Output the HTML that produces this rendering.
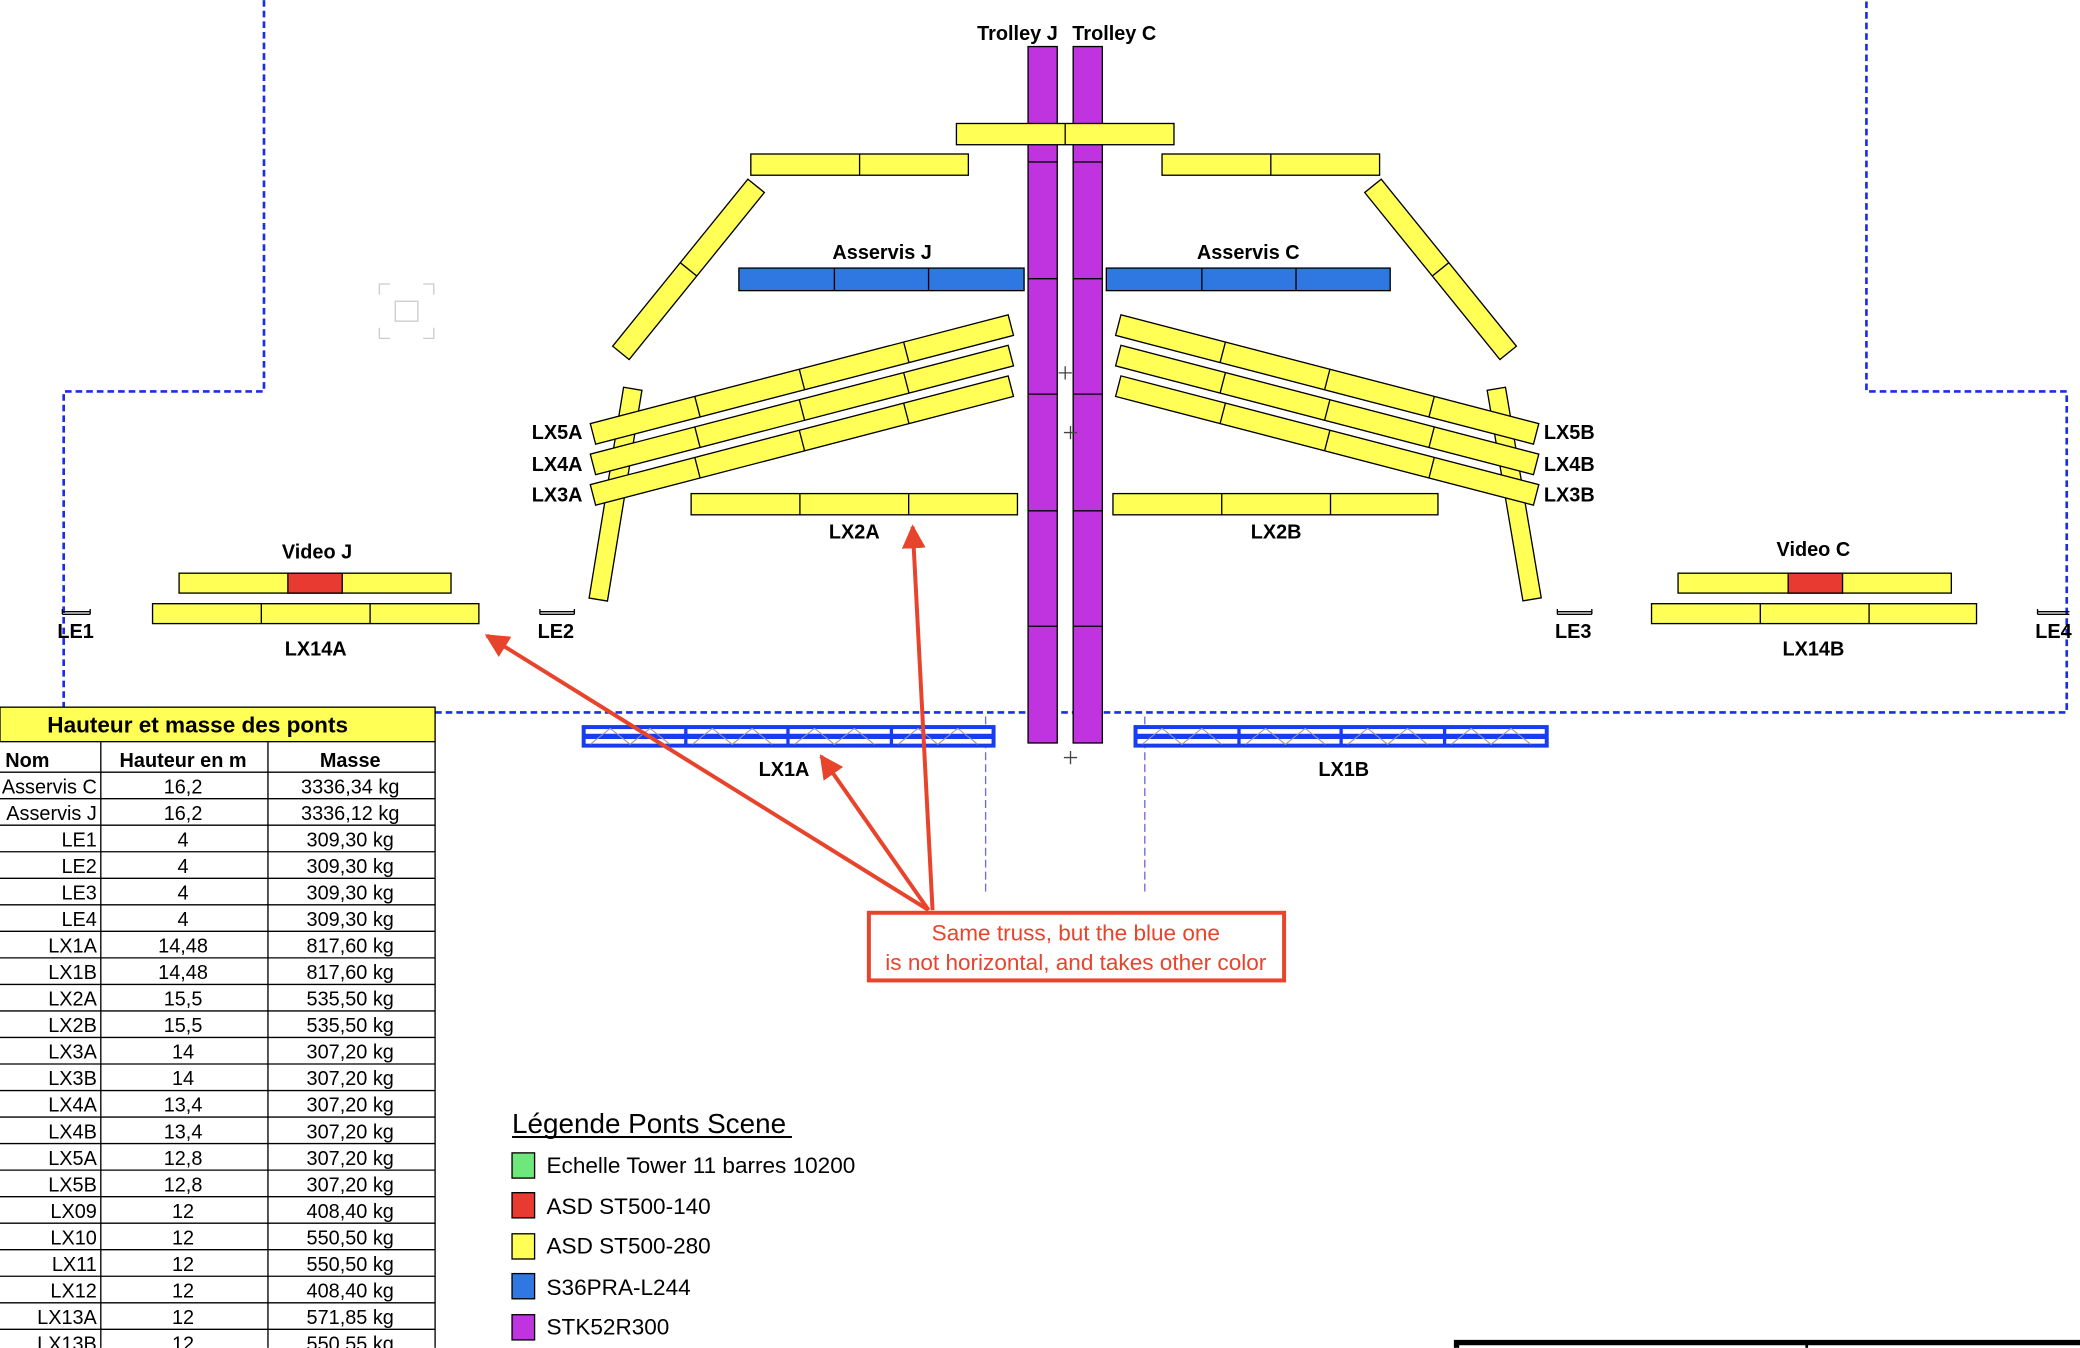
<!DOCTYPE html>
<html><head><meta charset="utf-8"><style>
html,body{margin:0;padding:0;background:#fff;}
svg{display:block;}
text{font-family:"Liberation Sans",sans-serif;}
</style></head><body>
<svg width="2080" height="1348" viewBox="0 0 1568 1016" xmlns="http://www.w3.org/2000/svg">
<defs>
<marker id="ah2" viewBox="0 0 10 10" markerWidth="18" markerHeight="18" refX="9" refY="5" orient="auto" markerUnits="userSpaceOnUse">
<path d="M0,0 L10,5 L0,10 Z" fill="#e8432b"/></marker>
</defs>
<path d="M199,0 V295 H48 V537 H1558 V295 H1407 V0" fill="none" stroke="#1a2ee8" stroke-width="2" stroke-dasharray="5,3"/>
<line x1="743" y1="540" x2="743" y2="672" stroke="#6a6ae0" stroke-width="1" stroke-dasharray="6,3"/>
<line x1="863" y1="540" x2="863" y2="672" stroke="#6a6ae0" stroke-width="1" stroke-dasharray="6,3"/>

<g stroke="#ccc" fill="none" stroke-width="1">
<path d="M286,222 V214 H294 M319,214 H327 V222 M327,247 V255 H319 M294,255 H286 V247"/>
<rect x="298" y="227" width="17" height="15"/>
</g>

<g stroke="#000" stroke-width="1" fill="#c034e0">
<rect x="775" y="35" width="22" height="525"/>
<rect x="809" y="35" width="22" height="525"/>
<path d="M775,122H797M775,210H797M775,297H797M775,385H797M775,472H797M809,122H831M809,210H831M809,297H831M809,385H831M809,472H831" fill="none"/>
</g>
<text x="767" y="30" font-size="15" font-weight="bold" text-anchor="middle">Trolley J</text>
<text x="840" y="30" font-size="15" font-weight="bold" text-anchor="middle">Trolley C</text>

<g stroke="#000" stroke-width="1" fill="#ffff55">
<rect x="721" y="93" width="164" height="16"/><line x1="803" y1="93" x2="803" y2="109"/>
<rect x="566" y="116" width="164" height="16"/><line x1="648" y1="116" x2="648" y2="132"/>
<rect x="876" y="116" width="164" height="16"/><line x1="958" y1="116" x2="958" y2="132"/>
<g transform="translate(570,140) rotate(128.99)"><rect x="0" y="-8" width="162" height="16"/><line x1="81" y1="-8" x2="81" y2="8"/></g>
<g transform="translate(1035,140) rotate(51.01)"><rect x="0" y="-8" width="162" height="16"/><line x1="81" y1="-8" x2="81" y2="8"/></g>
<g transform="translate(477,293) rotate(99.29)"><rect x="0" y="-7" width="161" height="14"/></g>
<g transform="translate(1128,293) rotate(80.36)"><rect x="0" y="-7" width="161" height="14"/></g>
</g>

<g stroke="#000" stroke-width="1" fill="#2f78e2">
<rect x="557" y="202" width="215" height="17"/><path d="M629,202V219M700,202V219"/>
<rect x="834" y="202" width="214" height="17"/><path d="M906,202V219M977,202V219"/>
</g>
<text x="665" y="195" font-size="15" font-weight="bold" text-anchor="middle">Asservis J</text>
<text x="941" y="195" font-size="15" font-weight="bold" text-anchor="middle">Asservis C</text>

<g stroke="#000" stroke-width="1" fill="#ffff55">
<g transform="translate(447,327) rotate(-14.59)"><rect x="0" y="-8" width="325.5" height="16"/><path d="M81.4,-8V8M162.8,-8V8M244.1,-8V8"/></g>
<g transform="translate(447,350) rotate(-14.59)"><rect x="0" y="-8" width="325.5" height="16"/><path d="M81.4,-8V8M162.8,-8V8M244.1,-8V8"/></g>
<g transform="translate(447,373) rotate(-14.59)"><rect x="0" y="-8" width="325.5" height="16"/><path d="M81.4,-8V8M162.8,-8V8M244.1,-8V8"/></g>
<g transform="translate(843,245) rotate(14.59)"><rect x="0" y="-8" width="325.5" height="16"/><path d="M81.4,-8V8M162.8,-8V8M244.1,-8V8"/></g>
<g transform="translate(843,268) rotate(14.59)"><rect x="0" y="-8" width="325.5" height="16"/><path d="M81.4,-8V8M162.8,-8V8M244.1,-8V8"/></g>
<g transform="translate(843,291) rotate(14.59)"><rect x="0" y="-8" width="325.5" height="16"/><path d="M81.4,-8V8M162.8,-8V8M244.1,-8V8"/></g>
<rect x="521" y="372" width="246" height="16"/><path d="M603,372V388M685,372V388"/>
<rect x="839" y="372" width="245" height="16"/><path d="M921,372V388M1003,372V388"/>
<rect x="135" y="432" width="205" height="15"/>
<rect x="115" y="455" width="246" height="15"/><path d="M197,455V470M279,455V470"/>
<rect x="1265" y="432" width="206" height="15"/>
<rect x="1245" y="455" width="245" height="15"/><path d="M1327,455V470M1409,455V470"/>
</g>
<rect x="217" y="432" width="41" height="15" fill="#e83a30" stroke="#000"/>
<rect x="1348" y="432" width="41" height="15" fill="#e83a30" stroke="#000"/>

<g font-size="15" font-weight="bold" text-anchor="middle">
<text x="420" y="331">LX5A</text><text x="420" y="355">LX4A</text><text x="420" y="378">LX3A</text>
<text x="1183" y="331">LX5B</text><text x="1183" y="355">LX4B</text><text x="1183" y="378">LX3B</text>
<text x="644" y="406">LX2A</text><text x="962" y="406">LX2B</text>
<text x="239" y="421">Video J</text><text x="1367" y="419">Video C</text>
<text x="238" y="494">LX14A</text><text x="1367" y="494">LX14B</text>
<text x="57" y="481">LE1</text><text x="419" y="481">LE2</text><text x="1186" y="481">LE3</text><text x="1548" y="481">LE4</text>
<text x="591" y="585">LX1A</text><text x="1013" y="585">LX1B</text>
</g>
<g stroke="#000" stroke-width="1">
<path d="M47,461H68M47,459V463M68,459V463M47,463H68"/>
<path d="M407,461H433M407,459V463M433,459V463M407,463H433"/>
<path d="M1174,461H1200M1174,459V463M1200,459V463M1174,463H1200"/>
<path d="M1536,461H1560M1536,459V463M1536,463H1560"/>
<path d="M798,281H808M803,276V286M802,326H812M807,321V331M802,571H812M807,566V576" stroke="#444"/>
</g>

<g>
<rect x="440" y="548" width="309" height="14" fill="#fff" stroke="#1a3cf0" stroke-width="3"/>
<rect x="856" y="548" width="310" height="14" fill="#fff" stroke="#1a3cf0" stroke-width="3"/>
<path d="M441,555H748M857,555H1165" stroke="#1a3cf0" stroke-width="4"/>
<path d="M517,549V561M594,549V561M672,549V561M934,549V561M1011,549V561M1089,549V561" stroke="#1a3cf0" stroke-width="2.5"/>
<path d="M445,561L460,549L475,561L490,549L505,561M522,561L537,549L552,561L567,549L582,561M599,561L614,549L629,561L644,549L659,561M677,561L692,549L707,561L722,549L737,561M861,561L876,549L891,561L906,549L921,561M939,561L954,549L969,561L984,549L999,561M1016,561L1031,549L1046,561L1061,549L1076,561M1094,561L1109,549L1124,561L1139,549L1154,561" stroke="#999" stroke-width="0.8" fill="none"/>
</g>

<rect x="655" y="688" width="313" height="51" fill="#fff" stroke="#e8432b" stroke-width="3"/>
<text x="811" y="709" font-size="17" fill="#e8432b" text-anchor="middle">Same truss, but the blue one</text>
<text x="811" y="731" font-size="17" fill="#e8432b" text-anchor="middle">is not horizontal, and takes other color</text>
<g stroke="#e8432b" stroke-width="3" fill="none">
<line x1="700" y1="686" x2="367" y2="479" marker-end="url(#ah2)"/>
<line x1="700" y1="686" x2="619" y2="570" marker-end="url(#ah2)"/>
<line x1="703" y1="686" x2="688" y2="397" marker-end="url(#ah2)"/>
</g>

<text x="386" y="854" font-size="21">Légende Ponts Scene</text>
<line x1="386" y1="857" x2="597" y2="857" stroke="#000" stroke-width="1.5"/>
<g stroke="#000" stroke-width="1">
<rect x="386" y="869" width="17" height="19" fill="#6ee87a"/>
<rect x="386" y="899" width="17" height="19" fill="#e83a30"/>
<rect x="386" y="930" width="17" height="19" fill="#ffff55"/>
<rect x="386" y="960" width="17" height="19" fill="#2f78e2"/>
<rect x="386" y="991" width="17" height="19" fill="#c034e0"/>
</g>
<g font-size="17">
<text x="412" y="884">Echelle Tower 11 barres 10200</text>
<text x="412" y="915">ASD ST500-140</text>
<text x="412" y="945">ASD ST500-280</text>
<text x="412" y="976">S36PRA-L244</text>
<text x="412" y="1006">STK52R300</text>
</g>

<rect x="0" y="533" width="328" height="26" fill="#ffff55" stroke="#000" stroke-width="1"/>
<text x="149" y="552" font-size="17" font-weight="bold" text-anchor="middle">Hauteur et masse des ponts</text>
<g stroke="#000" stroke-width="1">
<line x1="328" y1="559" x2="328" y2="1016"/>
<line x1="76" y1="559" x2="76" y2="1016"/>
<line x1="202" y1="559" x2="202" y2="1016"/>
<line x1="0" y1="582" x2="328" y2="582"/>
<path d="M0,602H328M0,622H328M0,642H328M0,662H328M0,682H328M0,702H328M0,722H328M0,742H328M0,762H328M0,782H328M0,802H328M0,822H328M0,842H328M0,862H328M0,882H328M0,902H328M0,922H328M0,942H328M0,962H328M0,982H328M0,1002H328"/>
</g>
<g font-size="15" font-weight="bold"><text x="4" y="578">Nom</text><text x="138" y="578" text-anchor="middle">Hauteur en m</text><text x="264" y="578" text-anchor="middle">Masse</text></g>
<g font-size="15">
<g text-anchor="end">
<text x="73" y="598">Asservis C</text><text x="73" y="618">Asservis J</text><text x="73" y="638">LE1</text><text x="73" y="658">LE2</text><text x="73" y="678">LE3</text><text x="73" y="698">LE4</text><text x="73" y="718">LX1A</text><text x="73" y="738">LX1B</text><text x="73" y="758">LX2A</text><text x="73" y="778">LX2B</text><text x="73" y="798">LX3A</text><text x="73" y="818">LX3B</text><text x="73" y="838">LX4A</text><text x="73" y="858">LX4B</text><text x="73" y="878">LX5A</text><text x="73" y="898">LX5B</text><text x="73" y="918">LX09</text><text x="73" y="938">LX10</text><text x="73" y="958">LX11</text><text x="73" y="978">LX12</text><text x="73" y="998">LX13A</text><text x="73" y="1018">LX13B</text>
</g>
<g text-anchor="middle">
<text x="138" y="598">16,2</text><text x="138" y="618">16,2</text><text x="138" y="638">4</text><text x="138" y="658">4</text><text x="138" y="678">4</text><text x="138" y="698">4</text><text x="138" y="718">14,48</text><text x="138" y="738">14,48</text><text x="138" y="758">15,5</text><text x="138" y="778">15,5</text><text x="138" y="798">14</text><text x="138" y="818">14</text><text x="138" y="838">13,4</text><text x="138" y="858">13,4</text><text x="138" y="878">12,8</text><text x="138" y="898">12,8</text><text x="138" y="918">12</text><text x="138" y="938">12</text><text x="138" y="958">12</text><text x="138" y="978">12</text><text x="138" y="998">12</text><text x="138" y="1018">12</text>
<text x="264" y="598">3336,34 kg</text><text x="264" y="618">3336,12 kg</text><text x="264" y="638">309,30 kg</text><text x="264" y="658">309,30 kg</text><text x="264" y="678">309,30 kg</text><text x="264" y="698">309,30 kg</text><text x="264" y="718">817,60 kg</text><text x="264" y="738">817,60 kg</text><text x="264" y="758">535,50 kg</text><text x="264" y="778">535,50 kg</text><text x="264" y="798">307,20 kg</text><text x="264" y="818">307,20 kg</text><text x="264" y="838">307,20 kg</text><text x="264" y="858">307,20 kg</text><text x="264" y="878">307,20 kg</text><text x="264" y="898">307,20 kg</text><text x="264" y="918">408,40 kg</text><text x="264" y="938">550,50 kg</text><text x="264" y="958">550,50 kg</text><text x="264" y="978">408,40 kg</text><text x="264" y="998">571,85 kg</text><text x="264" y="1018">550,55 kg</text>
</g>
</g>

<path d="M1098,1016V1012H1568" stroke="#000" stroke-width="4" fill="none"/>
<line x1="1362" y1="1012" x2="1362" y2="1016" stroke="#000" stroke-width="2"/>
</svg>
</body></html>
